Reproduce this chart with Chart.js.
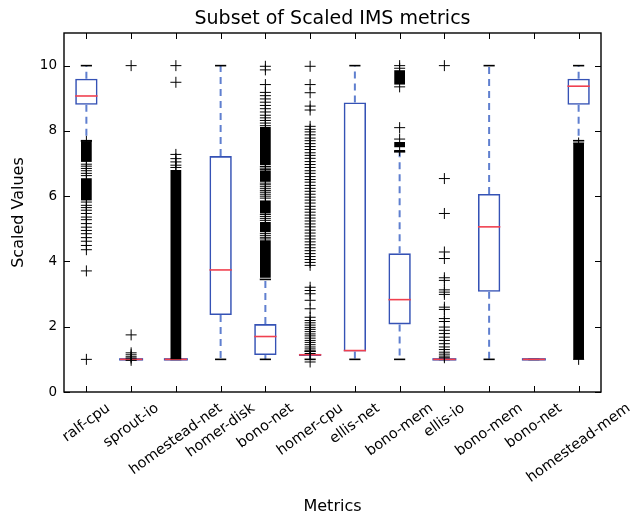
<!DOCTYPE html>
<html>
<head>
<meta charset="utf-8">
<script src="https://cdn.jsdelivr.net/npm/chart.js@4.4.0/dist/chart.umd.min.js"></script>
<style>
  html, body { margin: 0; padding: 0; background: #fff; }
  #wrap { width: 635px; height: 516px; }
</style>
</head>
<body>
<div id="wrap"><canvas id="chart"></canvas></div>
<script>
const metrics = ["ralf-cpu", "sprout-io", "homestead-net", "homer-disk", "bono-net", "homer-cpu",
  "ellis-net", "bono-mem", "ellis-io", "bono-mem", "bono-net", "homestead-mem"];

// five-number summary per metric
const whiskerLow  = [7.70, 1.00, 1.00, 1.00, 1.00, 1.00, 1.00, 1.00, 1.00, 1.00, 1.00, 7.70];
const q1          = [8.80, 1.00, 1.00, 2.36, 1.13, 1.10, 1.24, 2.07, 1.00, 3.07, 1.00, 8.80];
const medians     = [9.07, 1.00, 1.00, 3.74, 1.70, 1.14, 1.27, 2.83, 1.00, 5.06, 1.00, 9.37];
const q3          = [9.60, 1.00, 1.00, 7.23, 2.08, 1.17, 8.87, 4.25, 1.00, 6.07, 1.00, 9.60];
const whiskerHigh = [10.0, 1.00, 1.00, 10.0, 3.45, 1.25, 10.0, 7.36, 1.00, 10.0, 1.00, 10.0];

// individual outliers
const fliers = [
  [7.68, 6.98, 6.92, 6.85, 6.78, 6.70, 6.63, 5.82, 5.72, 5.65, 5.57, 5.47, 5.36, 5.28, 5.16,
   5.05, 4.95, 4.85, 4.73, 4.62, 4.49, 4.36, 3.71, 1.00],
  [10.0, 1.75, 1.20, 1.14, 1.08, 1.04, 0.97],
  [10.0, 9.49, 7.28, 7.15, 7.05, 6.95, 6.88],
  [],
  [9.98, 9.87, 9.42, 9.18, 9.08, 8.98, 8.88, 8.78, 8.68, 8.58, 8.48, 8.40, 8.32, 8.24, 8.16,
   6.91, 6.86, 6.82, 6.40, 6.35, 6.29, 6.23, 6.17, 6.12, 6.06, 6.00, 5.94, 5.44, 5.38, 5.32,
   5.26, 4.86, 4.80, 4.74, 4.69],
  [9.98, 9.42, 9.17, 8.76, 8.64, 8.14, 8.05, 7.97, 7.88, 7.78, 7.70, 7.61, 7.52, 7.43, 7.33,
   7.25, 7.16, 7.06, 6.97, 6.88, 6.78, 6.70, 6.60, 6.51, 6.43, 6.33, 6.24, 6.15, 6.06, 5.97,
   5.88, 5.79, 5.69, 5.60, 5.51, 5.42, 5.33, 5.24, 5.15, 5.06, 4.96, 4.87, 4.78, 4.69, 4.60,
   4.51, 4.42, 4.33, 4.24, 4.15, 4.06, 3.97, 3.88, 3.21, 3.11, 3.01, 2.81, 2.55, 2.29, 2.19,
   2.12, 2.05, 1.98, 1.92, 1.85, 1.78, 1.72, 1.65, 1.58, 1.52, 1.45, 1.38, 1.32, 1.25, 1.18, 0.92],
  [],
  [10.0, 9.92, 9.35, 8.10, 7.75, 7.40],
  [10.0, 6.54, 5.47, 4.29, 4.09, 3.50, 3.42, 3.13, 3.06, 2.99, 2.60, 2.53, 2.25, 2.16, 1.99,
   1.89, 1.79, 1.68, 1.58, 1.48, 1.38, 1.30, 1.22, 1.16, 1.10, 1.05],
  [],
  [],
  [7.63, 1.00]
];

// stretches where outliers are so packed they merge into a solid column
const packedFliers = [
  [[7.05, 7.68], [5.87, 6.55]],
  [],
  [[1.00, 6.80]],
  [],
  [[3.50, 4.65], [4.90, 5.21], [5.47, 5.87], [6.44, 6.79], [6.95, 8.12]],
  [],
  [],
  [[7.50, 7.66], [9.42, 9.86]],
  [],
  [],
  [],
  [[1.00, 7.63]]
];

const yTicks = [0, 2, 4, 6, 8, 10];
const title = "Subset of Scaled IMS metrics";

const BOX = "#3552b5";
const WHISKER = "#5f7fcf";
const MEDIAN = "#f0404f";
const FONT = "DejaVu Sans";

Chart.defaults.font.family = FONT;
Chart.defaults.color = "#000";

const boxData = metrics.map((m, i) => ({ x: i + 1, y: [q1[i], q3[i]] }));

const packedSets = [];
const maxPacked = Math.max(...packedFliers.map(r => r.length));
for (let k = 0; k < maxPacked; k++) {
  packedSets.push({
    type: "bar",
    data: packedFliers.flatMap((runs, i) => runs[k] ? [{ x: i + 1, y: runs[k] }] : []),
    backgroundColor: "#000",
    borderWidth: 0,
    grouped: false,
    barPercentage: 0.24,
    categoryPercentage: 1,
    order: 2
  });
}

const flierPoints = fliers.flatMap((vals, i) => vals.map(v => ({ x: i + 1, y: v })));

// whiskers, caps and medians drawn right after the boxes
const boxLines = {
  id: "boxLines",
  afterDatasetDraw(chart, args) {
    if (args.index !== 0) return;
    const { ctx, scales: { x, y } } = chart;
    const bars = args.meta.data;
    ctx.save();
    metrics.forEach((m, i) => {
      const cx = x.getPixelForValue(i + 1);
      const half = bars[i].width / 2;
      const yLo = y.getPixelForValue(whiskerLow[i]);
      const yHi = y.getPixelForValue(whiskerHigh[i]);
      const yQ1 = y.getPixelForValue(q1[i]);
      const yQ3 = y.getPixelForValue(q3[i]);
      ctx.strokeStyle = WHISKER;
      ctx.lineWidth = 2;
      ctx.setLineDash([7, 5]);
      if (whiskerLow[i] < q1[i]) {
        ctx.beginPath(); ctx.moveTo(cx, yQ1); ctx.lineTo(cx, yLo); ctx.stroke();
      }
      if (whiskerHigh[i] > q3[i]) {
        ctx.beginPath(); ctx.moveTo(cx, yQ3); ctx.lineTo(cx, yHi); ctx.stroke();
      }
      ctx.setLineDash([]);
      ctx.strokeStyle = "#000";
      ctx.lineWidth = 1.6;
      [yLo, yHi].forEach(py => {
        ctx.beginPath(); ctx.moveTo(cx - half / 2, py); ctx.lineTo(cx + half / 2, py); ctx.stroke();
      });
      const yMed = y.getPixelForValue(medians[i]);
      if (q1[i] === q3[i]) {
        ctx.strokeStyle = BOX;
        ctx.lineWidth = 2.4;
        ctx.beginPath(); ctx.moveTo(cx - half - 0.8, yMed); ctx.lineTo(cx + half + 0.8, yMed); ctx.stroke();
      }
      ctx.strokeStyle = MEDIAN;
      ctx.lineWidth = 1.6;
      ctx.beginPath(); ctx.moveTo(cx - half, yMed); ctx.lineTo(cx + half, yMed); ctx.stroke();
    });
    ctx.restore();
  }
};

// frame, inward tick marks, title over the plot and slanted category labels
const frameAndLabels = {
  id: "frameAndLabels",
  afterDraw(chart) {
    const { ctx, chartArea: a, scales: { x, y } } = chart;
    const tl = 6;
    ctx.save();
    ctx.strokeStyle = "#000";
    ctx.lineWidth = 1.4;
    ctx.strokeRect(a.left, a.top, a.right - a.left, a.bottom - a.top);
    ctx.lineWidth = 1;
    ctx.beginPath();
    metrics.forEach((m, i) => {
      const px = Math.round(x.getPixelForValue(i + 1)) + 0.5;
      ctx.moveTo(px, a.bottom); ctx.lineTo(px, a.bottom - tl);
      ctx.moveTo(px, a.top); ctx.lineTo(px, a.top + tl);
    });
    yTicks.forEach(v => {
      const py = Math.round(y.getPixelForValue(v)) + 0.5;
      ctx.moveTo(a.left, py); ctx.lineTo(a.left + tl, py);
      ctx.moveTo(a.right, py); ctx.lineTo(a.right - tl, py);
    });
    ctx.stroke();

    ctx.fillStyle = "#000";
    ctx.textAlign = "center";
    ctx.textBaseline = "middle";
    ctx.font = "19px '" + FONT + "'";
    ctx.fillText(title, (a.left + a.right) / 2, 19);

    const fs = 14.5;
    const ang = 36 * Math.PI / 180;
    ctx.font = fs + "px '" + FONT + "'";
    metrics.forEach((m, i) => {
      const w = ctx.measureText(m).width;
      const h = fs * 1.15;
      const H = w * Math.sin(ang) + h * Math.cos(ang);
      ctx.save();
      ctx.translate(x.getPixelForValue(i + 1), a.bottom + 8 + H / 2);
      ctx.rotate(-ang);
      ctx.fillText(m, 0, 0);
      ctx.restore();
    });
    ctx.restore();
  }
};

new Chart(document.getElementById("chart"), {
  type: "bar",
  data: {
    datasets: [
      {
        type: "bar",
        data: boxData,
        backgroundColor: "rgba(0,0,0,0)",
        borderColor: BOX,
        borderWidth: 1.6,
        borderSkipped: false,
        grouped: false,
        barPercentage: 0.5,
        categoryPercentage: 1,
        order: 3
      },
      ...packedSets,
      {
        type: "scatter",
        data: flierPoints,
        pointStyle: "cross",
        pointRadius: 5.5,
        borderColor: "#000",
        borderWidth: 1,
        showLine: false,
        order: 1
      }
    ]
  },
  options: {
    responsive: true,
    maintainAspectRatio: false,
    animation: false,
    events: [],
    devicePixelRatio: 1,
    layout: { padding: { left: 0, right: 34, top: 33, bottom: 0 } },
    plugins: {
      legend: { display: false },
      tooltip: { enabled: false },
      title: { display: false }
    },
    scales: {
      x: {
        type: "linear",
        min: 0.5,
        max: 12.5,
        offset: false,
        grid: { display: false, drawTicks: false, offset: false },
        border: { display: false },
        ticks: { display: false },
        afterBuildTicks: s => { s.ticks = metrics.map((m, i) => ({ value: i + 1 })); },
        afterFit: s => { s.height = 124; },
        title: { display: true, text: "Metrics", font: { size: 16 }, padding: { top: 0, bottom: 0 } }
      },
      y: {
        min: 0,
        max: 11,
        grid: { display: false, drawTicks: false },
        border: { display: false },
        ticks: { font: { size: 13.5 }, padding: 7 },
        afterBuildTicks: s => { s.ticks = yTicks.map(v => ({ value: v })); },
        afterFit: s => { s.width = 64; },
        title: { display: true, text: "Scaled Values", font: { size: 16 }, padding: { top: 9.4 } }
      }
    }
  },
  plugins: [boxLines, frameAndLabels]
});
</script>
</body>
</html>
